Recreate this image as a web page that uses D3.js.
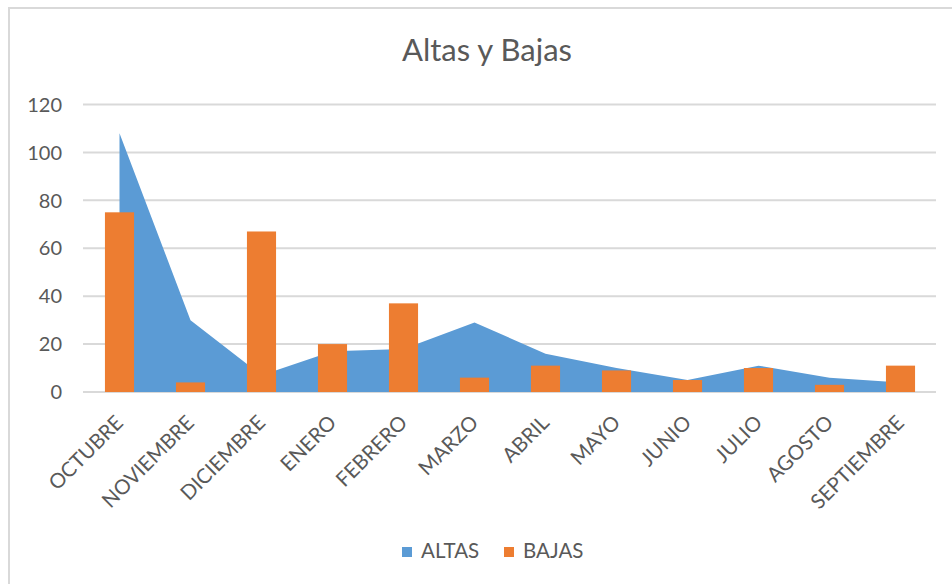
<!DOCTYPE html>
<html>
<head>
<meta charset="utf-8">
<script src="https://cdn.jsdelivr.net/npm/d3@7"></script>
<style>
  html, body { margin: 0; padding: 0; background: #ffffff; }
  svg { display: block; }
  text { font-family: Lato, "Open Sans", sans-serif; fill: #595959; }
</style>
</head>
<body>
<svg id="chart" width="952" height="584"></svg>
<script>
const months = ["OCTUBRE","NOVIEMBRE","DICIEMBRE","ENERO","FEBRERO","MARZO","ABRIL","MAYO","JUNIO","JULIO","AGOSTO","SEPTIEMBRE"];
const altas = [108, 30, 7, 17, 18, 29, 16, 10, 5, 11, 6, 4];
const bajas = [75, 4, 67, 20, 37, 6, 11, 9, 5, 10, 3, 11];
const yTicks = [0, 20, 40, 60, 80, 100, 120];
const title = "Altas y Bajas";
const seriesNames = ["ALTAS", "BAJAS"];
const colors = ["#5b9bd5", "#ed7d31"];

const svg = d3.select("#chart");

// chart border
svg.append("rect")
  .attr("x", 9).attr("y", 8).attr("width", 980).attr("height", 620)
  .attr("fill", "#fff").attr("stroke", "#d9d9d9").attr("stroke-width", 2);

const plotLeft = 84, plotRight = 936, plotTop = 104.5, plotBottom = 392;

const x = d3.scaleBand().domain(months).range([plotLeft, plotRight]).padding(0);
const y = d3.scaleLinear().domain([0, 120]).range([plotBottom, plotTop]);
const cx = m => x(m) + x.bandwidth() / 2;

// gridlines
svg.append("g").selectAll("line").data(yTicks).join("line")
  .attr("x1", plotLeft - 1).attr("x2", plotRight)
  .attr("y1", d => y(d)).attr("y2", d => y(d))
  .attr("stroke", "#d9d9d9").attr("stroke-width", 2);

// y-axis labels
svg.append("g").selectAll("text").data(yTicks).join("text")
  .attr("x", 62).attr("y", d => y(d)).attr("dy", "0.36em")
  .attr("text-anchor", "end")
  .style("font-size", "20px")
  .text(d => d);

// area (ALTAS)
const area = d3.area()
  .x((d, i) => cx(months[i]))
  .y0(y(0))
  .y1(d => y(d))
  .curve(d3.curveLinear);
svg.append("path").datum(altas)
  .attr("d", area)
  .attr("fill", colors[0]);

// bars (BAJAS)
const bw = x.bandwidth() * 0.41;
svg.append("g").selectAll("rect").data(bajas).join("rect")
  .attr("x", (d, i) => cx(months[i]) - bw / 2)
  .attr("width", bw)
  .attr("y", d => y(d))
  .attr("height", d => y(0) - y(d))
  .attr("fill", colors[1]);

// x labels
svg.append("g").selectAll("text").data(months).join("text")
  .attr("transform", d => `translate(${cx(d) + 5},${plotBottom + 32}) rotate(-45)`)
  .attr("text-anchor", "end")
  .style("font-size", "20.5px")
  .text(d => d);

// title
svg.append("text")
  .attr("x", 487).attr("y", 61)
  .attr("text-anchor", "middle")
  .style("font-size", "31px")
  .style("font-weight", 400)
  .text(title);

// legend
const legendX = [402, 504];
seriesNames.forEach((name, i) => {
  svg.append("rect")
    .attr("x", legendX[i]).attr("y", 547)
    .attr("width", 10).attr("height", 10)
    .attr("fill", colors[i]);
  svg.append("text")
    .attr("x", legendX[i] + 19).attr("y", 558)
    .style("font-size", "20.5px")
    .text(name);
});
</script>
</body>
</html>
